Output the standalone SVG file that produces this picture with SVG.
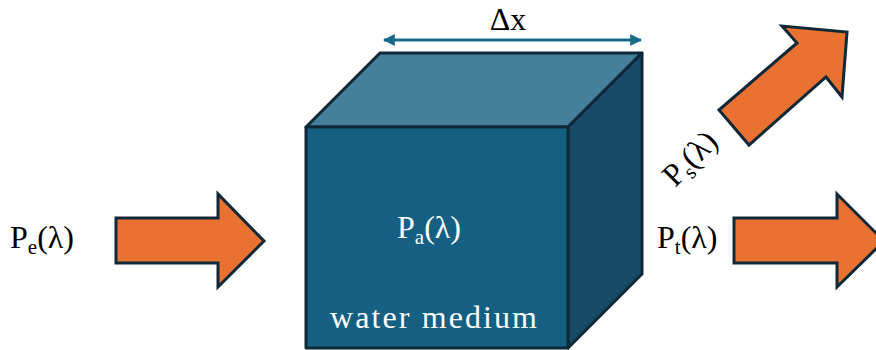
<svg xmlns="http://www.w3.org/2000/svg" width="876" height="350" viewBox="0 0 876 350">
<style>
text{font-family:"Times New Roman",Times,"Liberation Serif","DejaVu Serif","Noto Serif",serif;font-size:32px;fill:#000000}
.w{fill:#ffffff}
.s{font-size:21px}
.arr{fill:#e97132;stroke:#0e2838;stroke-width:3;stroke-linejoin:miter}
.face{stroke:#0e2838;stroke-width:3;stroke-linejoin:round}
</style>
<defs>
<marker id="ah" viewBox="0 0 10 10" refX="9" refY="5" markerWidth="4" markerHeight="4" orient="auto-start-reverse">
<path d="M0,0 L10,5 L0,10 z" fill="#1a6a8a"/>
</marker>
</defs>
<g id="cube">
<polygon class="face" points="306,127 380,53 642,53 568,127" fill="#467f9a"/>
<polygon class="face" points="568,127 642,53 642,274 568,348" fill="#164a66"/>
<polygon class="face" points="306,127 568,127 568,348 306,348" fill="#156082"/>
<text class="w" x="397" y="238">P<tspan class="s" dy="6">a</tspan><tspan dy="-6">(λ)</tspan></text>
<text class="w" x="330" y="328" textLength="207" lengthAdjust="spacing">water medium</text>
</g>
<g id="connectors">
<line x1="384" y1="40" x2="641" y2="40" stroke="#1a6a8a" stroke-width="3" marker-start="url(#ah)" marker-end="url(#ah)"/>
</g>
<g id="dx"><text x="508" y="30" text-anchor="middle">Δx</text></g>
<g id="incident">
<polygon class="arr" points="116,218 218,218 218,194 264,241 218,287 218,263 116,263"/>
<text x="10" y="248">P<tspan class="s" dy="6">e</tspan><tspan dy="-6">(λ)</tspan></text>
</g>
<g id="transmitted">
<polygon class="arr" points="734,218 837,218 837,194 884,241 837,287 837,263 734,263"/>
<text x="657" y="248">P<tspan class="s" dy="6">t</tspan><tspan dy="-6">(λ)</tspan></text>
</g>
<g id="scattered">
<polygon class="arr" points="719,110 797,43 782,26 847,32 842,97 826,77 749,145"/>
<text transform="translate(675,188) rotate(-45)">P<tspan class="s" dy="6">s</tspan><tspan dy="-6">(λ)</tspan></text>
</g>
</svg>
